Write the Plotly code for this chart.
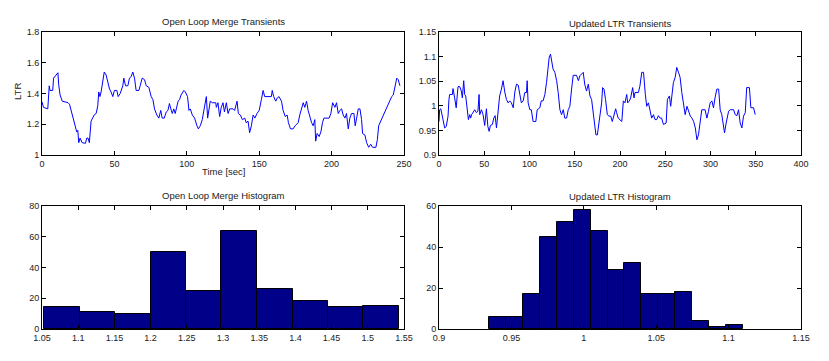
import numpy as np
import plotly.graph_objects as go

# ---------------- data ----------------
ol_time = [0, 1, 4, 4.6, 5, 5.5, 7.4, 8, 9.7, 11, 11.5, 12.5, 14, 18, 19, 20, 21.7, 23, 24, 24.7,
           25.4, 26.3, 27.7, 30, 30.9, 31.8, 32.7, 33.9, 35, 36, 37.4, 38.5, 39.2, 40, 40.8, 42, 43,
           44.3, 45.4, 46.6, 47.7, 48.9, 50, 51.7, 52.6, 54, 55.8, 56.5, 57.7, 59.3, 60.4, 61.6, 62.7,
           63.9, 65, 66.9, 67.8, 69.2, 70.8, 72, 73.8, 75.4, 76.6, 77.7, 79.3, 80.7, 82, 83, 84.4, 85.8,
           87, 88, 89, 90, 91, 92, 94, 95, 96, 98, 99, 100.5, 101.5, 102.4, 103.8, 105.4, 107, 108,
           109.3, 110.7, 111.6, 112.8, 113.5, 114.4, 115.3, 116.2, 117.6, 120, 120.4, 121.5, 122.7,
           123.8, 125, 126, 127.3, 128.5, 129.6, 132, 133, 134.7, 135.6, 137, 138.4, 140, 141, 142.3,
           143.4, 144.6, 145.8, 147, 148.5, 150, 151.5, 152.7, 153.8, 158.4, 159, 160, 161.4, 162.4,
           163.7, 165.4, 166.5, 168, 169.3, 170.2, 171.6, 173.4, 174.8, 176.9, 178, 179.2, 180.4, 181.5,
           182.7, 183.8, 185, 186.2, 187.3, 188.4, 189, 190, 191.4, 192.6, 193.7, 194.7, 198.3, 199.5,
           200.7, 202.3, 203.4, 204.6, 205.7, 206.9, 208, 209.2, 210.3, 211.5, 212.6, 213.8, 215.4,
           216.3, 217.3, 218.4, 219.6, 220.7, 221.4, 223, 224.2, 225.6, 227, 228.3, 230.6, 231.6, 232.5,
           233.9, 235.3, 236.9, 238, 239.2, 240.3, 241.5, 242.6, 243.8, 245, 246, 247.2]
ol_ltr = [1.346, 1.31, 1.30, 1.41, 1.45, 1.42, 1.42, 1.50, 1.52, 1.535, 1.46, 1.39, 1.35, 1.34, 1.33,
          1.29, 1.24, 1.17, 1.15, 1.16, 1.08, 1.11, 1.08, 1.076, 1.11, 1.11, 1.08, 1.22, 1.24, 1.26,
          1.27, 1.32, 1.41, 1.38, 1.41, 1.49, 1.54, 1.52, 1.48, 1.43, 1.41, 1.38, 1.42, 1.42, 1.38,
          1.40, 1.45, 1.50, 1.45, 1.45, 1.50, 1.51, 1.54, 1.50, 1.42, 1.42, 1.45, 1.50, 1.49, 1.45,
          1.44, 1.38, 1.36, 1.30, 1.26, 1.24, 1.29, 1.24, 1.24, 1.28, 1.29, 1.335, 1.30, 1.27, 1.30,
          1.27, 1.35, 1.36, 1.39, 1.42, 1.41, 1.38, 1.29, 1.30, 1.26, 1.24, 1.19, 1.17, 1.19, 1.23,
          1.28, 1.36, 1.38, 1.24, 1.31, 1.35, 1.34, 1.34, 1.31, 1.34, 1.25, 1.31, 1.34, 1.28, 1.34,
          1.27, 1.30, 1.30, 1.29, 1.35, 1.27, 1.26, 1.23, 1.24, 1.21, 1.22, 1.145, 1.19, 1.26, 1.24,
          1.27, 1.29, 1.36, 1.42, 1.38, 1.38, 1.42, 1.38, 1.35, 1.37, 1.38, 1.35, 1.29, 1.25, 1.26,
          1.21, 1.17, 1.17, 1.19, 1.21, 1.26, 1.31, 1.34, 1.31, 1.35, 1.29, 1.24, 1.21, 1.19, 1.23,
          1.09, 1.14, 1.12, 1.15, 1.21, 1.24, 1.24, 1.27, 1.34, 1.31, 1.34, 1.27, 1.29, 1.30, 1.26,
          1.24, 1.27, 1.17, 1.24, 1.27, 1.27, 1.19, 1.24, 1.30, 1.30, 1.23, 1.14, 1.13, 1.08, 1.05,
          1.07, 1.05, 1.05, 1.10, 1.19, 1.22, 1.25, 1.28, 1.31, 1.34, 1.36, 1.38, 1.39, 1.44, 1.50,
          1.49, 1.45]

up_time = [0, 0.7, 2, 3, 4.4, 6.3, 8, 10, 11, 11.8, 14.8, 15.5, 17.3, 19, 21, 22.9, 24.7, 25.8, 27.3,
           28.4, 29.5, 31, 32.5, 34, 35, 36, 37.6, 39.5, 41.3, 43, 44.3, 45, 46.9, 48.7, 50.5, 52.4,
           54, 55.4, 56.8, 59, 60.5, 62, 63.5, 65.3, 67, 69, 70.8, 72.7, 74.5, 76.4, 78.2, 80, 82,
           83.8, 85.6, 87.5, 89, 91, 93, 94.8, 96.7, 97.4, 98.5, 100.4, 102, 104, 107, 108.5, 111.4,
           113, 115, 117, 118.8, 120.7, 121.8, 123.2, 124.4, 126, 128, 130, 131.7, 133.6, 135.4,
           137.3, 139, 141, 142.8, 144.6, 146.5, 148.3, 152, 154, 155.7, 157.6, 159.4, 161, 163, 165,
           166.8, 168.6, 170.5, 172.3, 173.4, 175, 176.4, 178, 179.7, 180.8, 182.3, 184, 186, 187.8,
           189.7, 191.5, 193.4, 195.2, 196.3, 198, 202, 203.7, 205.5, 207.4, 208.5, 210.3, 211.8, 214,
           215.5, 216.6, 220.3, 222, 224, 226, 228, 229.5, 231.4, 233.2, 235, 237, 238.7, 240.6,
           242.4, 244.3, 246, 248, 251, 252.4, 254.6, 256, 257.6, 259, 261, 262.7, 264.6, 266.4,
           268.3, 270, 272, 274, 276, 277.7, 279.5, 281.4, 283.2, 285, 286.7, 288.5, 290.4, 294, 296,
           297.8, 299.6, 301.5, 303.3, 305, 307, 309, 310.7, 312.5, 314.4, 315.5, 317.3, 320, 321.8,
           325.5, 327.3, 329.2, 331, 332.8, 334.7, 336.5, 338.4, 340, 343, 344.6, 347.6, 349.4]
up_ltr = [0.968, 0.992, 0.994, 0.986, 0.968, 0.955, 0.958, 0.979, 1.013, 1.023, 1.023, 1.035, 1.016,
          0.996, 1.039, 1.039, 1.03, 1.016, 1.051, 1.023, 1.02, 0.992, 0.972, 0.982, 0.975, 0.982,
          0.986, 0.992, 0.986, 0.989, 1.023, 0.982, 0.992, 0.982, 0.96, 0.994, 0.958, 0.948, 0.96,
          0.962, 0.975, 0.98, 0.955, 0.992, 1.02, 1.034, 1.051, 1.028, 1.013, 1.006, 1.01, 1.006,
          0.996, 1.028, 1.044, 1.042, 1.027, 1.006, 1.01, 1.027, 1.027, 1.051, 1.006, 0.992, 0.992,
          0.968, 0.968, 0.992, 0.996, 1.01, 1.01, 1.023, 1.047, 1.075, 1.099, 1.105, 1.095, 1.075,
          1.068, 1.051, 1.027, 0.992, 0.982, 0.992, 0.975, 0.975, 0.992, 0.999, 1.034, 1.062, 1.062,
          1.051, 1.061, 1.064, 1.068, 1.044, 1.03, 1.044, 1.02, 1.013, 0.986, 0.951, 0.941, 0.941,
          0.958, 0.982, 1.006, 1.037, 1.034, 1.013, 0.982, 0.979, 0.979, 0.968, 0.98, 0.994, 0.986,
          0.975, 0.968, 1.01, 1.006, 1.023, 1.006, 1.01, 1.016, 1.037, 1.016, 1.027, 1.027, 1.04,
          1.068, 1.068, 1.023, 0.999, 1.006, 0.992, 0.975, 0.982, 0.972, 0.972, 0.98, 0.975, 0.975,
          0.962, 0.965, 1.013, 1.02, 0.999, 1.02, 1.047, 1.058, 1.078, 1.068, 1.058, 1.027, 1.01,
          0.982, 0.999, 0.986, 0.979, 0.975, 0.968, 0.955, 0.931, 0.941, 0.972, 0.992, 0.992, 0.975,
          0.989, 1.006, 1.01, 0.996, 1.016, 1.034, 1.034, 0.992, 0.982, 0.955, 0.945, 0.965, 0.989,
          0.992, 0.992, 0.982, 0.98, 0.992, 0.965, 0.955, 0.979, 0.986, 1.037, 1.037, 0.996, 0.996,
          0.982]

ol_edges = [1.0532, 1.1026, 1.151, 1.2, 1.2493, 1.2977, 1.347, 1.396, 1.445, 1.4935, 1.5425]
ol_counts = [14, 11, 10, 50, 25, 64, 26, 18, 14, 15]

up_edges = [0.9346, 0.9463, 0.958, 0.9697, 0.9814, 0.993, 1.0047, 1.0164, 1.0281, 1.0398,
            1.0515, 1.0632, 1.0749, 1.0865, 1.0982, 1.1099]
up_counts = [6, 6, 17, 45, 52, 58, 48, 29, 32, 17, 17, 18, 4, 1, 2]

tl_xticks = [0, 50, 100, 150, 200, 250]
tl_yticks = [1, 1.2, 1.4, 1.6, 1.8]
tr_xticks = [0, 50, 100, 150, 200, 250, 300, 350, 400]
tr_yticks = [0.9, 0.95, 1, 1.05, 1.1, 1.15]
bl_xticks = [1.05, 1.1, 1.15, 1.2, 1.25, 1.3, 1.35, 1.4, 1.45, 1.5, 1.55]
bl_yticks = [0, 20, 40, 60, 80]
br_xticks = [0.9, 0.95, 1, 1.05, 1.1, 1.15]
br_yticks = [0, 20, 40, 60]

titles = ["Open Loop Merge Transients", "Updated LTR Transients",
          "Open Loop Merge Histogram", "Updated LTR Histogram"]

# ---------------- figure ----------------
PAGE_OFF = 8                      # default body margin of the html page
W, H = 829 - 2 * PAGE_OFF, 361 - 2 * PAGE_OFF
L, R, T, B = 42, 801, 32, 329     # target screen pixel box of the plot grid
FONT = "Liberation Sans, Arial, sans-serif"


def px_x(p):
    return (p - L) / (R - L)


def px_y(p):
    return 1 - (p - T) / (B - T)


fig = go.Figure()

fig.add_trace(go.Scatter(x=ol_time, y=ol_ltr, mode="lines", line=dict(color="#0000ff", width=1),
                         xaxis="x", yaxis="y", showlegend=False))
fig.add_trace(go.Scatter(x=up_time, y=up_ltr, mode="lines", line=dict(color="#0000ff", width=1),
                         xaxis="x2", yaxis="y2", showlegend=False))

ole = np.array(ol_edges)
fig.add_trace(go.Bar(x=(ole[:-1] + ole[1:]) / 2, y=ol_counts, width=np.diff(ole),
                     marker=dict(color="#000088", line=dict(color="black", width=1)),
                     xaxis="x3", yaxis="y3", showlegend=False))
upe = np.array(up_edges)
fig.add_trace(go.Bar(x=(upe[:-1] + upe[1:]) / 2, y=up_counts, width=np.diff(upe),
                     marker=dict(color="#000088", line=dict(color="black", width=1)),
                     xaxis="x4", yaxis="y4", showlegend=False))


def axis(domain, rng, ticks, anchor):
    return dict(domain=domain, range=rng, tickvals=ticks, ticktext=["%g" % t for t in ticks],
                showline=True, mirror="ticks", linecolor="black", linewidth=1,
                ticks="inside", ticklen=4, tickcolor="black", tickwidth=1,
                showgrid=False, zeroline=False, anchor=anchor, automargin=False,
                tickfont=dict(family=FONT, size=9, color="#222222"))


xl = [px_x(42), px_x(404)]
xr = [px_x(439), px_x(801)]
yt = [px_y(155), px_y(32)]
yb = [px_y(329), px_y(206)]

fig.update_layout(
    width=W, height=H,
    margin=dict(l=L - PAGE_OFF, r=829 - PAGE_OFF - R, t=T - PAGE_OFF, b=361 - PAGE_OFF - B, autoexpand=False),
    paper_bgcolor="white", plot_bgcolor="white", bargap=0,
    font=dict(family=FONT, size=9, color="#222222"),
    xaxis=axis(xl, [0, 250], tl_xticks, "y"),
    yaxis=axis(yt, [1, 1.8], tl_yticks, "x"),
    xaxis2=axis(xr, [0, 400], tr_xticks, "y2"),
    yaxis2=axis(yt, [0.9, 1.15], tr_yticks, "x2"),
    xaxis3=axis(xl, [1.05, 1.55], bl_xticks, "y3"),
    yaxis3=axis(yb, [0, 80], bl_yticks, "x3"),
    xaxis4=axis(xr, [0.9, 1.15], br_xticks, "y4"),
    yaxis4=axis(yb, [0, 60], br_yticks, "x4"),
)

title_pos = [((xl[0] + xl[1]) / 2, px_y(22)), ((xr[0] + xr[1]) / 2, px_y(23)),
             ((xl[0] + xl[1]) / 2, px_y(195)), ((xr[0] + xr[1]) / 2, px_y(196))]
for txt, (x, y) in zip(titles, title_pos):
    fig.add_annotation(text=txt, x=x, y=y, xref="paper", yref="paper", showarrow=False,
                       xanchor="center", yanchor="middle", font=dict(family=FONT, size=9.5, color="#222222"))

fig.add_annotation(text="Time [sec]", x=(xl[0] + xl[1]) / 2, y=px_y(171), xref="paper", yref="paper",
                   showarrow=False, xanchor="center", yanchor="middle",
                   font=dict(family=FONT, size=9.5, color="#222222"))
fig.add_annotation(text="LTR", x=px_x(17), y=px_y(92), xref="paper", yref="paper", textangle=-90,
                   showarrow=False, xanchor="center", yanchor="middle",
                   font=dict(family=FONT, size=9.5, color="#222222"))

fig.write_html("out.html")
